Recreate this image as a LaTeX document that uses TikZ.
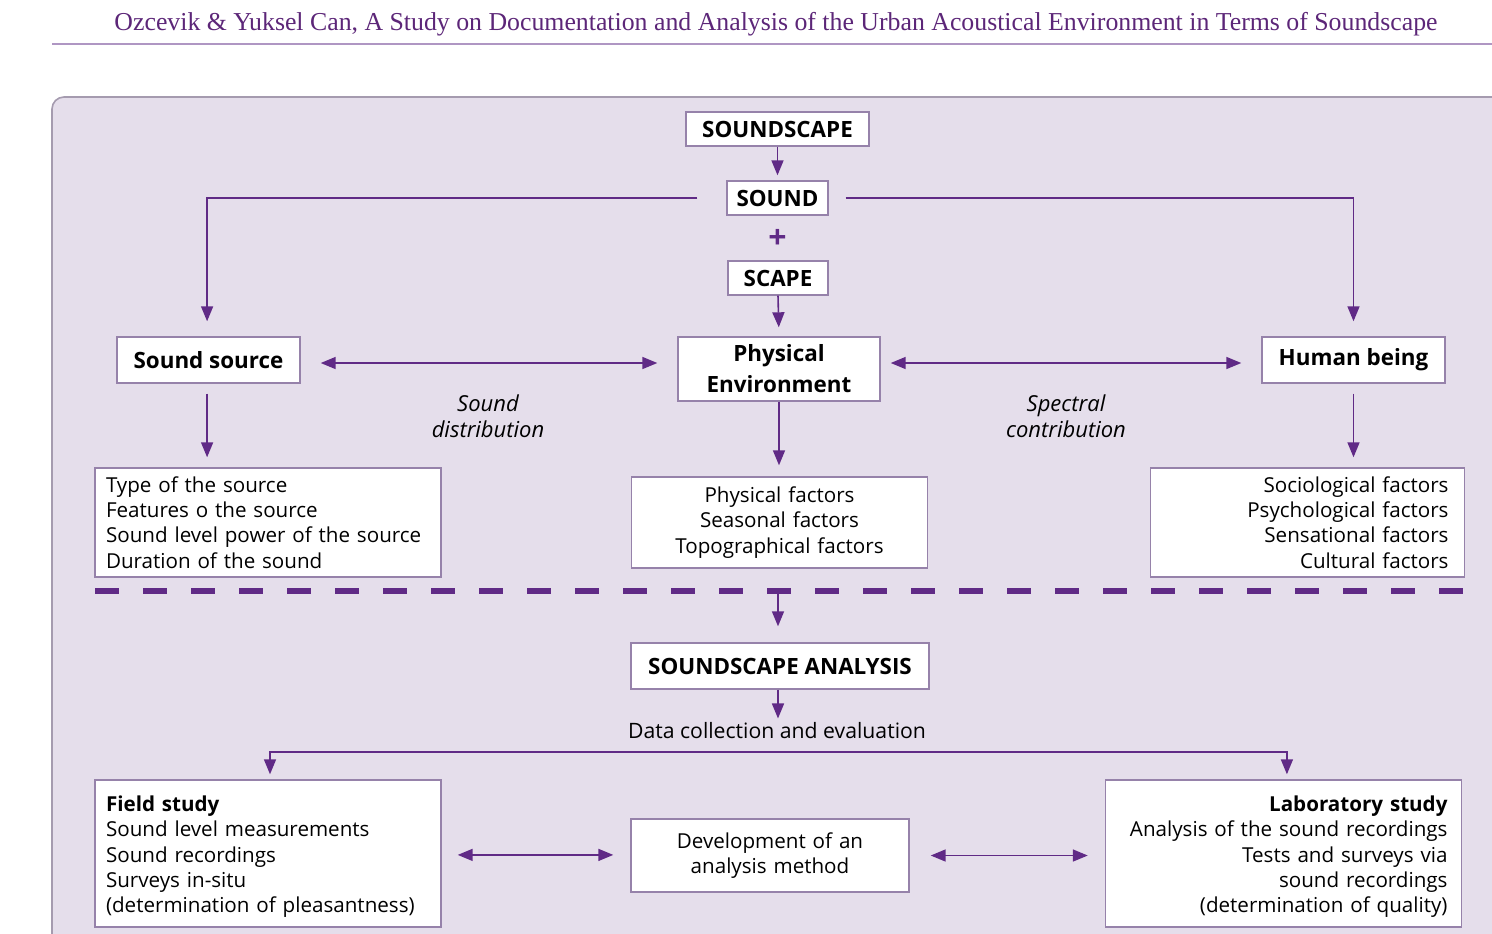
\documentclass[tikz,border=0pt]{standalone}
\usepackage{fontspec}
\setmainfont{Open Sans}
\newfontfamily\headfont{Liberation Serif}
\usepackage{tikz}
\usetikzlibrary{calc,arrows.meta,positioning}
\definecolor{scapePurple}{RGB}{96,42,134}
\definecolor{scapeLine}{RGB}{150,130,170}
\definecolor{scapePanel}{RGB}{229,222,235}
\definecolor{scapeFrame}{RGB}{165,155,175}
\definecolor{scapeTitle}{RGB}{92,38,120}
\definecolor{scapeRule}{RGB}{175,150,195}

\begin{document}
\begin{tikzpicture}[x=0.5pt,y=-0.5pt,
  box/.style={draw=scapeLine, line width=0.7pt, fill=white, inner sep=0pt, font=\fontsize{11.2}{13}\selectfont\bfseries},
  listbox/.style={draw=scapeLine, line width=0.7pt, fill=white, inner ysep=0pt, font=\fontsize{10.3}{12.6}\selectfont},
  arrow/.style={draw=scapePurple, line width=0.8pt, -{Triangle[width=6pt,length=7.5pt]}},
  dblarrow/.style={draw=scapePurple, line width=0.8pt, {Triangle[width=6pt,length=7.5pt]}-{Triangle[width=6pt,length=7.5pt]}},
  note/.style={align=center, font=\fontsize{11}{13}\selectfont\itshape}]
\useasboundingbox (0,0) rectangle (1492,933);
\clip (0,0) rectangle (1492,933);

% header
\node[text=scapeTitle, font=\headfont\fontsize{12.9}{14}\selectfont] (title) at (776,24)
  {Ozcevik \& Yuksel Can, A Study on Documentation and Analysis of the Urban Acoustical Environment in Terms of Soundscape};
\draw[scapeRule, line width=0.8pt] (52,44) -- (1500,44);

% panel
\draw[fill=scapePanel, draw=scapeFrame, line width=0.8pt, rounded corners=6pt] (52,97) rectangle (1560,1000);

% upper part
\node[box, minimum width=91.5pt, minimum height=17pt] (soundscape) at (777.5,129) {SOUNDSCAPE};
\node[box, minimum width=50.5pt, minimum height=17pt] (sound) at (777.5,198) {SOUND};
\node[text=scapePurple, font=\fontsize{16}{16}\selectfont\bfseries] (plus) at (777.5,239) {+};
\node[box, minimum width=50pt, minimum height=17pt] (scape) at (778,278) {SCAPE};

\node[box, minimum width=91.5pt, minimum height=23pt] (source) at (208.5,360) {Sound source};
\node[box, minimum width=101pt, minimum height=32pt, align=center, font=\fontsize{11.2}{15.5}\selectfont\bfseries] (physical) at (779,369) {Physical\\Environment};
\node[box, minimum width=91.5pt, minimum height=23pt] (human) at (1353.5,360) {Human being};

\node[note] (distrib) at (488,416) {Sound\\distribution};
\node[note] (spectral) at (1066,416) {Spectral\\contribution};

\node[listbox, text width=162pt, inner xsep=5.5pt, minimum height=54.5pt, align=left] (srcfactors) at (268,522.5)
  {Type of the source\\Features o the source\\Sound level power of the source\\Duration of the sound};
\node[listbox, text width=140pt, inner xsep=4pt, minimum height=45.5pt, align=center] (physfactors) at (779.5,522.5)
  {Physical factors\\Seasonal factors\\Topographical factors};
\node[listbox, text width=141pt, inner xsep=8pt, minimum height=54.5pt, align=right] (humfactors) at (1307.5,522.5)
  {Sociological factors\\Psychological factors\\Sensational factors\\Cultural factors};

\draw[arrow, shorten >=2.5pt] (soundscape.south) -- (sound.north);
\draw[arrow, shorten <=14.5pt, shorten >=7.5pt] (sound.west) -| ([xshift=-0.7pt]source.north);
\draw[arrow, shorten <=8.5pt, shorten >=7.5pt] (sound.east) -| (human.north);
\draw[arrow, shorten >=4.5pt] (scape.south) -- (physical.north);
\draw[dblarrow, shorten <=10pt, shorten >=10pt] ([yshift=-1.5pt]source.east) -- ([yshift=-1.5pt]source.east -| physical.west);
\draw[dblarrow, shorten <=5pt, shorten >=10pt] ([yshift=-1.5pt]human.west -| physical.east) -- ([yshift=-1.5pt]human.west);
\draw[arrow, shorten <=5pt, shorten >=5pt] ([xshift=-0.7pt]source.south) -- ([xshift=-0.7pt]source.south |- srcfactors.north);
\draw[arrow, shorten >=5.5pt] (physical.south) -- (physical.south |- physfactors.north);
\draw[arrow, shorten <=5pt, shorten >=5pt] (human.south) -- (human.south |- humfactors.north);

% divider
\coordinate (divL) at (95,591);
\coordinate (divR) at (1464,591);
\coordinate (divM) at (778,591);
\draw[scapePurple, line width=2.6pt, dash pattern=on 12pt off 12pt] (divL) -- (divR);

% lower part
\node[box, minimum width=149pt, minimum height=23pt] (analysis) at (780,666) {SOUNDSCAPE ANALYSIS};
\node[font=\fontsize{10.6}{13}\selectfont, inner sep=1pt] (datacoll) at (777,731) {Data collection and evaluation};
\coordinate (split) at (778,752);

\node[listbox, text width=162pt, inner xsep=5.5pt, minimum height=73.5pt, align=left] (field) at (268,853.5)
  {\rule{0pt}{11pt}\textbf{Field study}\\Sound level measurements\\Sound recordings\\Surveys in-situ\\(determination of pleasantness)};
\node[listbox, text width=131pt, inner xsep=4pt, minimum height=36.5pt, align=center] (devel) at (770,855.5)
  {Development of an\\analysis method};
\node[listbox, text width=164pt, inner xsep=7pt, minimum height=73.5pt, align=right] (lab) at (1283.5,853.5)
  {\rule{0pt}{11pt}\textbf{Laboratory study}\\Analysis of the sound recordings\\Tests and surveys via\\sound recordings\\(determination of quality)};

\draw[arrow, shorten >=8pt] (divM) -- (divM |- analysis.north);
\draw[arrow, shorten >=1pt] (divM |- analysis.south) -- (divM |- datacoll.north);
\draw[arrow, shorten >=2.5pt] (split) -| ([xshift=1pt]field.north);
\draw[arrow, shorten >=2.5pt] (split) -| ([xshift=1.7pt]lab.north);
\draw[dblarrow, shorten <=8pt, shorten >=8.5pt] ([yshift=-0.7pt]field.east) -- ([yshift=-0.7pt]field.east -| devel.west);
\draw[dblarrow, shorten <=10.5pt, shorten >=8.5pt] (devel.east) -- (devel.east -| lab.west);
\end{tikzpicture}
\end{document}
